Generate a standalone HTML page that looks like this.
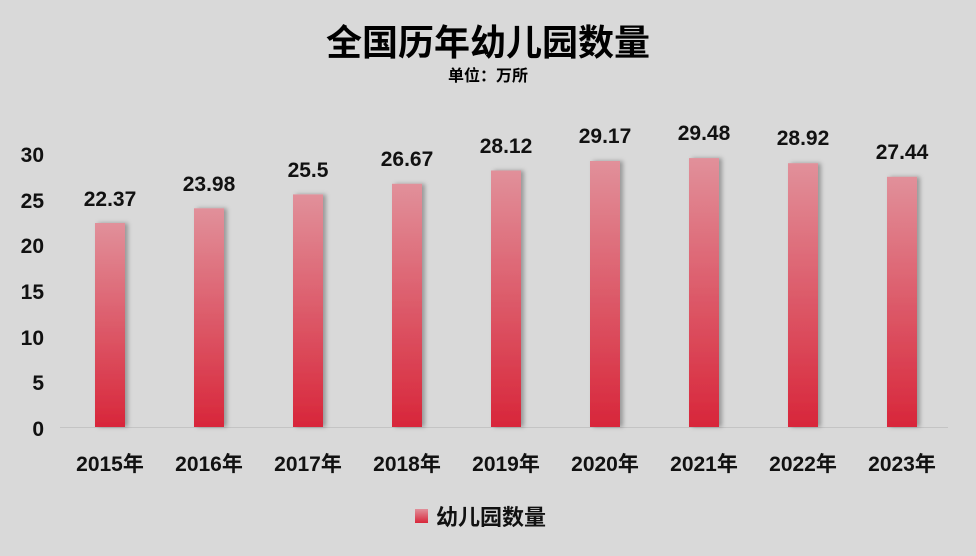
<!DOCTYPE html>
<html><head><meta charset="utf-8"><style>
html,body{margin:0;padding:0;background:#d9d9d9;}
svg{display:block;font-family:"Liberation Sans","Noto Sans CJK SC",sans-serif;font-weight:bold;}
</style></head><body>
<svg width="976" height="556" viewBox="0 0 976 556">
<defs>
<linearGradient id="g" x1="0" y1="0" x2="0" y2="1">
<stop offset="0" stop-color="#e1909a"/><stop offset="1" stop-color="#d8263a"/>
</linearGradient>
<filter id="s" x="-30%" y="-10%" width="160%" height="120%"><feDropShadow dx="3" dy="0" stdDeviation="2" flood-color="#000" flood-opacity="0.3"/></filter>
</defs>
<rect x="0" y="0" width="976" height="556" fill="#d9d9d9"/>
<text x="488" y="55" font-size="36" text-anchor="middle" fill="#000">全国历年幼儿园数量</text>
<text x="488" y="81" font-size="16" text-anchor="middle" fill="#000">单位：万所</text>
<g font-size="21" text-anchor="end" fill="#111">
<text x="44" y="162">30</text><text x="44" y="208">25</text><text x="44" y="253">20</text>
<text x="44" y="299">15</text><text x="44" y="345">10</text><text x="44" y="390">5</text><text x="44" y="436">0</text>
</g>
<line x1="60" y1="427.5" x2="948" y2="427.5" stroke="#c4c4c4" stroke-width="1"/>
<g id="bars" filter="url(#s)" fill="url(#g)">
<rect x="95" y="223" width="30" height="204"/>
<rect x="194" y="208.3" width="30" height="218.7"/>
<rect x="293" y="194.4" width="30" height="232.6"/>
<rect x="392" y="183.8" width="30" height="243.2"/>
<rect x="491" y="170.5" width="30" height="256.5"/>
<rect x="590" y="161" width="30" height="266"/>
<rect x="689" y="158.1" width="30" height="268.9"/>
<rect x="788" y="163.2" width="30" height="263.8"/>
<rect x="887" y="176.8" width="30" height="250.2"/>
</g>
<g font-size="21" text-anchor="middle" fill="#111">
<text x="110" y="206">22.37</text><text x="209" y="191">23.98</text><text x="308" y="177">25.5</text>
<text x="407" y="166">26.67</text><text x="506" y="153">28.12</text><text x="605" y="143">29.17</text>
<text x="704" y="140">29.48</text><text x="803" y="145">28.92</text><text x="902" y="159">27.44</text>
</g>
<g font-size="21" text-anchor="middle" fill="#111">
<text x="110" y="471">2015年</text><text x="209" y="471">2016年</text><text x="308" y="471">2017年</text>
<text x="407" y="471">2018年</text><text x="506" y="471">2019年</text><text x="605" y="471">2020年</text>
<text x="704" y="471">2021年</text><text x="803" y="471">2022年</text><text x="902" y="471">2023年</text>
</g>
<rect x="415" y="509" width="13" height="14" fill="url(#g)"/>
<text x="436" y="525" font-size="22" fill="#111">幼儿园数量</text>
</svg>
</body></html>
